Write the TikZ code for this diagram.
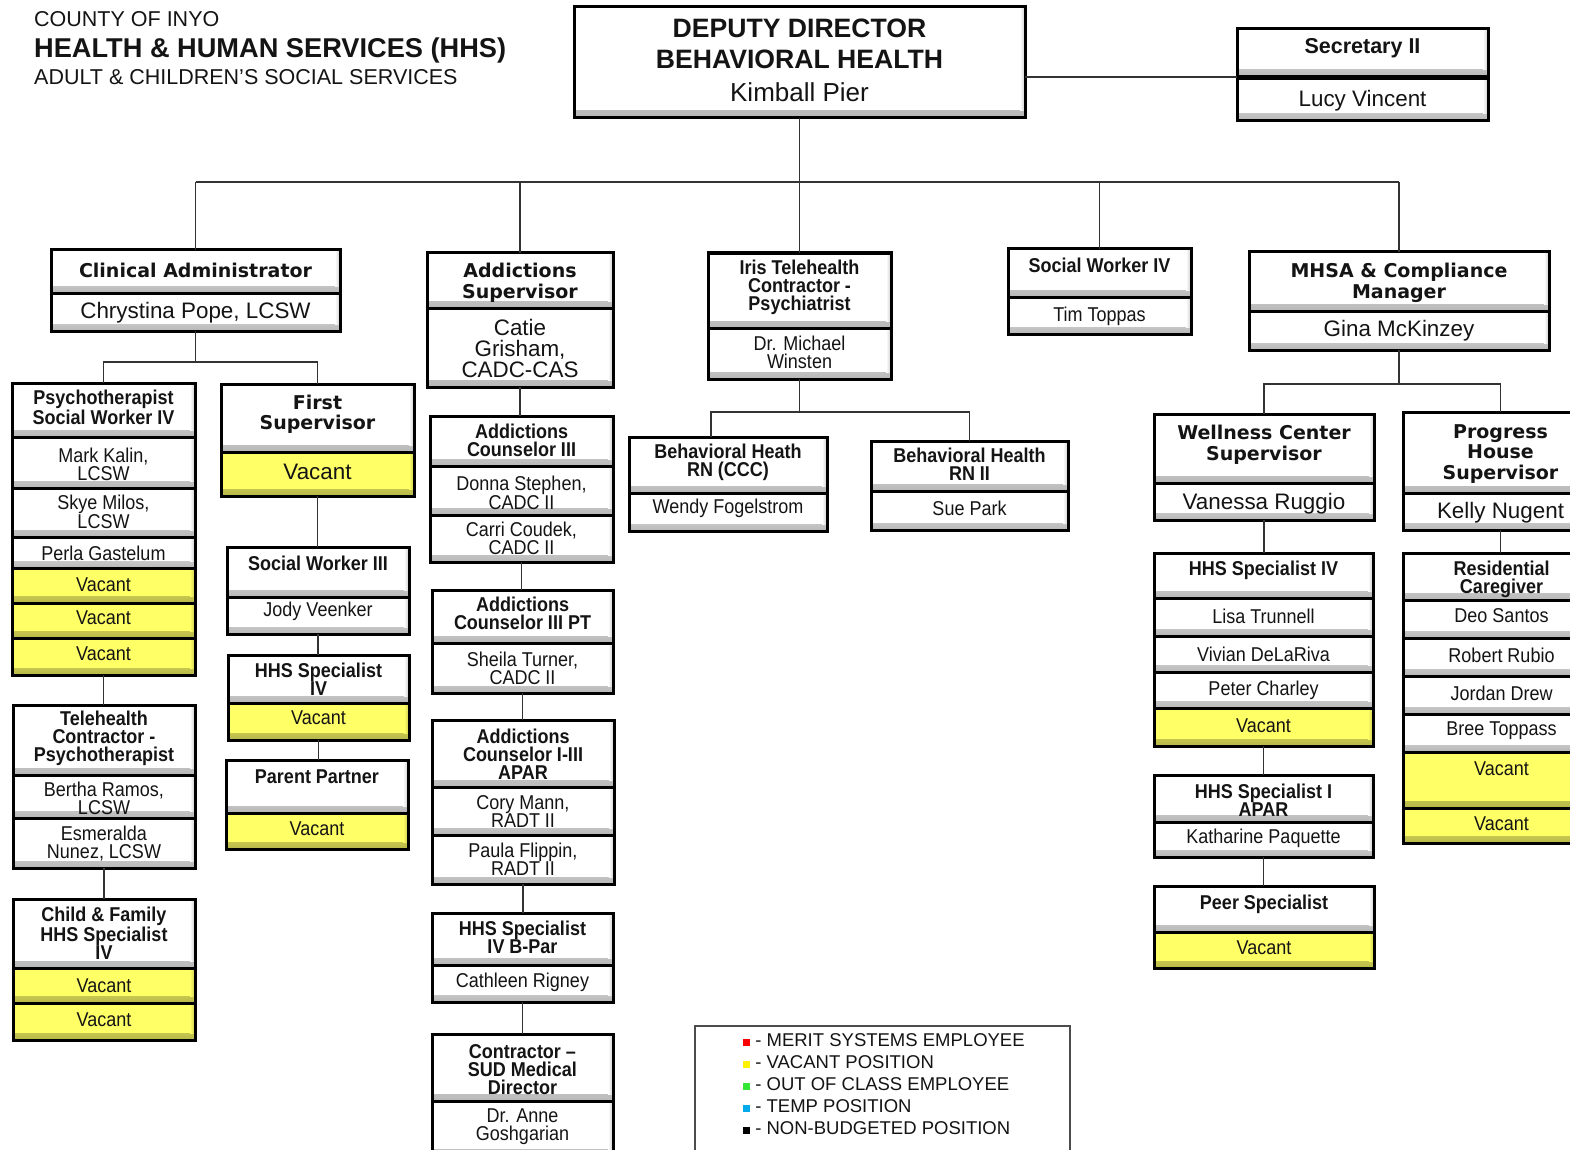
\documentclass[tikz,border=0pt]{standalone}
\usepackage{fontspec}
\setmainfont{Liberation Sans}
\newfontfamily\nsans[FakeStretch=0.9]{Liberation Sans}
\newfontfamily\vsans{DejaVu Sans}
\definecolor{vacY}{RGB}{255,255,102}
\definecolor{lgGreen}{RGB}{51,230,51}
\definecolor{lgBlue}{RGB}{0,170,235}
\definecolor{ink}{RGB}{20,20,20}
\tikzset{
 cell/.style={draw=black, line width=3pt, fill=#1, inner sep=0pt, outer sep=0pt,
   path picture={
     \shade[top color=#1, bottom color=#1!72!black] ([yshift=7pt]path picture bounding box.south west) rectangle (path picture bounding box.south east);
     \shade[left color=#1, right color=#1!80!black] ([xshift=-5pt,yshift=7pt]path picture bounding box.south east) rectangle (path picture bounding box.north east);
   }},
 cell/.default=white,
 vac/.style={cell=vacY},
 txt/.style={align=center, inner sep=0pt, text=ink},
 fWT/.style={font=\vsans\bfseries\fontsize{19}{20.5}\selectfont},
 fNT/.style={font=\nsans\bfseries\fontsize{20}{18}\selectfont},
 fNN/.style={font=\nsans\fontsize{20}{18}\selectfont},
 fNM/.style={font=\fontsize{22.4}{21}\selectfont},
 fSec/.style={font=\bfseries\fontsize{21.5}{22}\selectfont},
 fDep/.style={font=\bfseries\fontsize{26.6}{31}\selectfont},
 fDepN/.style={font=\fontsize{26}{30}\selectfont},
 fLeg/.style={font=\fontsize{18.5}{20}\selectfont, anchor=west, inner sep=0pt, text=ink},
 conn/.style={draw=black!80, line width=1.3pt},
}
% \cb[cell opts]{name}{x1}{y1}{x2}{y2}{text y}{font style}{text}
\newcommand\cb[9][]{%
 \node[cell,#1,minimum width={#5pt-#3pt},minimum height={#6pt-#4pt}] (#2) at ({(#3+#5)/2},{(#4+#6)/2}) {};
 \node[txt,#8] (#2-t) at ({(#3+#5)/2},#7) {#9};}
\newcommand\vlink[2]{\draw[conn] (#1.south) -- (#1.south|-#2.north);}
\begin{document}
\begin{tikzpicture}[x=1pt,y=-1pt]
\fill[white] (0,0) rectangle (1570,1150);
\useasboundingbox (0,0) rectangle (1570,1150);

% header
\node[anchor=west, inner sep=0pt, text=ink, font=\fontsize{21.5}{22}\selectfont] (h1) at (34,19) {COUNTY OF INYO};
\node[anchor=west, inner sep=0pt, text=ink, font=\bfseries\fontsize{27.2}{28}\selectfont] (h2) at (34,50.5) {HEALTH \& HUMAN SERVICES (HHS)};
\node[anchor=west, inner sep=0pt, text=ink, font=\fontsize{21.5}{22}\selectfont] (h3) at (34,77.5) {ADULT \& CHILDREN’S SOCIAL SERVICES};

% top
\cb{dep}{574}{7}{1025}{118}{44}{fDep}{DEPUTY DIRECTOR\\BEHAVIORAL HEALTH}
\node[txt,fDepN] (dep-n) at (799.5,92.5) {Kimball Pier};
\cb{sec1}{1237}{29}{1488}{77}{48.5}{fSec}{Secretary II}
\cb{sec2}{1237}{79}{1488}{121}{101}{fNM}{Lucy Vincent}

% clinical branch
\cb{clin1}{51}{250}{340}{293}{270.5}{fWT}{Clinical Administrator}
\cb{clin2}{51}{293}{340}{331}{313}{fNM}{Chrystina Pope, LCSW}

\cb{psy1}{12}{383}{195}{437}{407.5}{fNT}{Psychotherapist\\Social Worker IV}
\cb{psy2}{12}{437}{195}{488}{464.5}{fNN}{Mark Kalin,\\LCSW}
\cb{psy3}{12}{488}{195}{537}{511.5}{fNN}{Skye Milos,\\LCSW}
\cb{psy4}{12}{537}{195}{568}{553}{fNN}{Perla Gastelum}
\cb[vac]{psy5}{12}{568}{195}{603}{585}{fNN}{Vacant}
\cb[vac]{psy6}{12}{603}{195}{638}{618}{fNN}{Vacant}
\cb[vac]{psy7}{12}{638}{195}{675}{654}{fNN}{Vacant}

\cb{tel1}{13}{705}{195}{775}{738.5}{fNT}{Telehealth\\Contractor -\\Psychotherapist}
\cb{tel2}{13}{775}{195}{818}{798.5}{fNN}{Bertha Ramos,\\LCSW}
\cb{tel3}{13}{818}{195}{868}{843.5}{fNN}{Esmeralda\\Nunez, LCSW}

\cb{cf1}{13}{899}{195}{968}{933.5}{fNT}{Child \& Family\\HHS Specialist\\IV}
\cb[vac]{cf2}{13}{968}{195}{1003}{986}{fNN}{Vacant}
\cb[vac]{cf3}{13}{1003}{195}{1040}{1020}{fNN}{Vacant}

\cb{fs1}{221}{384}{414}{452}{414.5}{fWT}{First\\Supervisor}
\cb[vac]{fs2}{221}{452}{414}{496}{472}{fNM}{Vacant}

\cb{sw3a}{227}{547}{409}{597}{563.5}{fNT}{Social Worker III}
\cb{sw3b}{227}{597}{409}{634}{611}{fNN}{Jody Veenker}
\cb{hsa}{228}{655}{409}{703}{679.5}{fNT}{HHS Specialist\\IV}
\cb[vac]{hsb}{228}{703}{409}{740}{718}{fNN}{Vacant}
\cb{ppa}{226}{760}{408}{813}{777}{fNT}{Parent Partner}
\cb[vac]{ppb}{226}{813}{408}{849}{829}{fNN}{Vacant}

% addictions branch
\cb{as1}{427}{253}{613}{308}{283}{fWT}{Addictions\\Supervisor}
\cb{as2}{427}{308}{613}{387}{348.5}{fNM}{Catie\\Grisham,\\CADC-CAS}

\cb{ac1}{430}{416}{613}{466}{440.5}{fNT}{Addictions\\Counselor III}
\cb{ac2}{430}{466}{613}{515}{492.5}{fNN}{Donna Stephen,\\CADC II}
\cb{ac3}{430}{515}{613}{562}{538.5}{fNN}{Carri Coudek,\\CADC II}

\cb{pt1}{432}{590}{613}{643}{613.5}{fNT}{Addictions\\Counselor III PT}
\cb{pt2}{432}{643}{613}{693}{668.5}{fNN}{Sheila Turner,\\CADC II}

\cb{ap1}{432}{720}{614}{787}{754.5}{fNT}{Addictions\\Counselor I-III\\APAR}
\cb{ap2}{432}{787}{614}{835}{811.5}{fNN}{Cory Mann,\\RADT II}
\cb{ap3}{432}{835}{614}{884}{859.5}{fNN}{Paula Flippin,\\RADT II}

\cb{bp1}{432}{913}{613}{965}{937.5}{fNT}{HHS Specialist\\IV B-Par}
\cb{bp2}{432}{965}{613}{1002}{982}{fNN}{Cathleen Rigney}

\cb{sud1}{432}{1034}{613}{1101}{1069.5}{fNT}{Contractor \textendash\\SUD Medical\\Director}
\cb{sud2}{432}{1101}{613}{1156}{1126.5}{fNN}{Dr. Anne\\Goshgarian}

% iris branch
\cb{ir1}{708}{253}{891}{328}{287.5}{fNT}{Iris Telehealth\\Contractor -\\Psychiatrist}
\cb{ir2}{708}{328}{891}{379}{352.5}{fNN}{Dr. Michael\\Winsten}
\cb{rn1}{629}{437}{827}{493}{462.5}{fNT}{Behavioral Heath\\RN (CCC)}
\cb{rn2}{629}{493}{827}{531}{508}{fNN}{Wendy Fogelstrom}
\cb{rm1}{871}{441}{1068}{491}{464.5}{fNT}{Behavioral Health\\RN II}
\cb{rm2}{871}{491}{1068}{530}{508}{fNN}{Sue Park}

% social worker IV
\cb{swa}{1008}{249}{1191}{297}{265.5}{fNT}{Social Worker IV}
\cb{swb}{1008}{297}{1191}{334}{316}{fNN}{Tim Toppas}

% MHSA branch
\cb{mh1}{1249}{252}{1549}{311}{283}{fWT}{MHSA \& Compliance\\Manager}
\cb{mh2}{1249}{311}{1549}{350}{331}{fNM}{Gina McKinzey}

\cb{wc1}{1154}{414}{1374}{483}{445}{fWT}{Wellness Center\\Supervisor}
\cb{wc2}{1154}{483}{1374}{520}{504}{fNM}{Vanessa Ruggio}
\cb{ph1}{1403}{412}{1598}{493}{454}{fWT}{Progress\\House\\Supervisor}
\cb{ph2}{1403}{493}{1598}{530}{513}{fNM}{Kelly Nugent}

\cb{h4a}{1154}{553}{1373}{598}{570}{fNT}{HHS Specialist IV}
\cb{h4b}{1154}{598}{1373}{636}{616}{fNN}{Lisa Trunnell}
\cb{h4c}{1154}{636}{1373}{672}{654}{fNN}{Vivian DeLaRiva}
\cb{h4d}{1154}{672}{1373}{708}{690}{fNN}{Peter Charley}
\cb[vac]{h4e}{1154}{708}{1373}{746}{726}{fNN}{Vacant}

\cb{h1a}{1154}{775}{1373}{822}{800.5}{fNT}{HHS Specialist I\\APAR}
\cb{h1b}{1154}{822}{1373}{857}{838}{fNN}{Katharine Paquette}

\cb{pe1}{1154}{886}{1374}{932}{904}{fNT}{Peer Specialist}
\cb[vac]{pe2}{1154}{932}{1374}{968}{948}{fNN}{Vacant}

\cb{rc1}{1403}{553}{1600}{600}{579.5}{fNT}{Residential\\Caregiver}
\cb{rc2}{1403}{600}{1600}{638}{616}{fNN}{Deo Santos}
\cb{rc3}{1403}{638}{1600}{676}{655}{fNN}{Robert Rubio}
\cb{rc4}{1403}{676}{1600}{714}{693}{fNN}{Jordan Drew}
\cb{rc5}{1403}{714}{1600}{752}{731}{fNN}{Bree Toppass}
\cb[vac]{rc6}{1403}{752}{1600}{808}{769}{fNN}{Vacant}
\cb[vac]{rc7}{1403}{808}{1600}{843}{824}{fNN}{Vacant}

% connectors
\coordinate (bus) at (0,182);
\draw[conn] (dep.south) -- (dep.south|-bus);
\draw[conn] (clin1.north|-bus) -- (mh1.north|-bus);
\foreach \n in {clin1,as1,ir1,swa,mh1}{\draw[conn] (\n.north) -- (\n.north|-bus);}
\draw[conn] (dep.east|-sec1.south) -- (sec1.south west);

\coordinate (cbus) at (0,362);
\draw[conn] (clin2.south) -- (clin2.south|-cbus);
\draw[conn] (psy1.north) |- (fs1.north|-cbus) -- (fs1.north);

\coordinate (ibus) at (711,412);
\draw[conn] (ir2.south) -- (ir2.south|-ibus);
\draw[conn] (ibus|-rn1.north) -- (ibus) -- (ibus-|rm1.north) -- (rm1.north);

\coordinate (mbus) at (0,384);
\draw[conn] (mh2.south) -- (mh2.south|-mbus);
\draw[conn] (wc1.north) |- (ph1.north|-mbus) -- (ph1.north);

\vlink{psy7}{tel1}
\vlink{tel3}{cf1}
\vlink{fs2}{sw3a}
\vlink{sw3b}{hsa}
\vlink{hsb}{ppa}
\vlink{as2}{ac1}
\vlink{ac3}{pt1}
\vlink{pt2}{ap1}
\vlink{ap3}{bp1}
\vlink{bp2}{sud1}
\vlink{wc2}{h4a}
\vlink{h4e}{h1a}
\vlink{h1b}{pe1}
\vlink{ph2}{rc1}

% legend
\node[draw=black!70, line width=1.2pt, fill=white, minimum width=375pt, minimum height=140pt, inner sep=0pt, outer sep=0pt] (leg) at (882.5,1096) {};
\node[fLeg] (lg1) at (743,1040) {\textcolor{red}{\rule{7pt}{7pt}} - MERIT SYSTEMS EMPLOYEE};
\node[fLeg] (lg2) at (743,1062) {\textcolor{yellow}{\rule{7pt}{7pt}} - VACANT POSITION};
\node[fLeg] (lg3) at (743,1084) {\textcolor{lgGreen}{\rule{7pt}{7pt}} - OUT OF CLASS EMPLOYEE};
\node[fLeg] (lg4) at (743,1106) {\textcolor{lgBlue}{\rule{7pt}{7pt}} - TEMP POSITION};
\node[fLeg] (lg5) at (743,1128) {\textcolor{black}{\rule{7pt}{7pt}} - NON-BUDGETED POSITION};
\end{tikzpicture}
\end{document}
